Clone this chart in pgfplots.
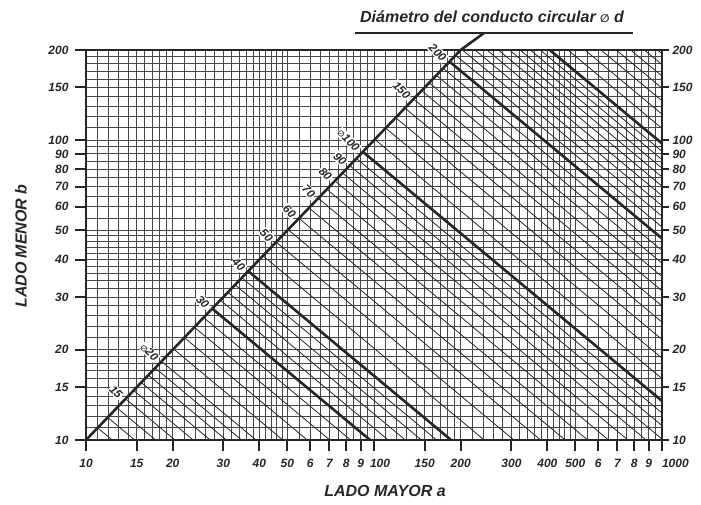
\documentclass[border=0pt]{standalone}
\usepackage{fontspec}
\setmainfont{Liberation Sans}
\newfontfamily\symfont{DejaVu Sans}
\usepackage{pgfplots}
\usepackage{pgfplotstable}
\pgfplotsset{compat=1.18}
\definecolor{ink}{HTML}{262626}
\definecolor{gridc}{HTML}{474747}

% constant-diameter line for d = 1 (straight in log-log, slope -0.8),
% scaled by d in both a and b
\pgfplotstableread{
a b
0.91469 0.91469
914.69 0.0036415
}\basecurve

\tikzset{dlab/.style={rotate=-45, anchor=east, fill=white, inner sep=1pt, text=ink,
  font=\bfseries\itshape\fontsize{11.5}{12}\selectfont, xshift=-4pt, yshift=-2pt}}

\begin{document}
\begin{tikzpicture}
\useasboundingbox (0,0) rectangle (701pt,505pt);
\begin{axis}[
  xmode=log, ymode=log, xmin=10, xmax=1000, ymin=10, ymax=200,
  scale only axis, width=576pt, height=390pt,
  at={(86pt,65pt)}, anchor=south west,
  ticklabel style={font=\bfseries\itshape\fontsize{12}{13}\selectfont, text=ink},
  /pgf/number format/assume math mode=true,
  every tick/.style={ink, line width=2pt},
  xtick={10,15,20,30,40,50,60,70,80,90,100,150,200,300,400,500,600,700,800,900,1000},
  xticklabels={10,15,20,30,40,50,6,7,8,9,\makebox[0pt][l]{\hspace{-4pt}100},150,200,300,400,500,6,7,8,9,\makebox[0pt][l]{1000}},
  ytick={10,15,20,30,40,50,60,70,80,90,100,150,200},
  yticklabels={10,15,20,30,40,50,60,70,80,90,100,150,200},
  minor xtick={11,12,13,14,16,17,18,19,22,24,26,28,32,34,36,38,42,44,46,48,55,65,75,85,95,110,120,130,140,160,170,180,190,220,240,260,280,320,340,360,380,420,440,460,480,550,650,750,850,950},
  minor ytick={11,12,13,14,16,17,18,19,22,24,26,28,32,34,36,38,42,44,46,48,55,65,75,85,95,110,120,130,140,160,170,180,190},
  grid=both,
  major grid style={gridc, line width=0.9pt},
  minor grid style={gridc, line width=0.9pt},
  xtick pos=bottom, ytick pos=left, tick align=outside,
  major tick length=11pt, minor tick length=0pt,
  axis line style={ink, line width=2.4pt},
  xticklabel style={yshift=-5pt},
  yticklabel style={xshift=-3pt},
  clip mode=individual,
]
% thin constant-diameter lines
\pgfplotsinvokeforeach{11,12,13,14,15,16,17,18,19,20,22,24,26,28,32,34,36,38,45,50,55,60,65,70,75,80,85,90,95,110,120,130,140,150,160,170,180,190,210,220,230,240,250,260,270,280,290,320,340,360,380,400,420,440}{
  \addplot[ink, line width=0.8pt] table[x expr=\thisrow{a}*#1, y expr=\thisrow{b}*#1]{\basecurve};
}
% thick constant-diameter lines
\pgfplotsinvokeforeach{30,40,100,200,300}{
  \addplot[ink, line width=2.6pt] table[x expr=\thisrow{a}*#1, y expr=\thisrow{b}*#1]{\basecurve};
}
% diameter labels along the diagonal
\node[dlab] at (axis cs:13.72,13.72) {15};
\node[dlab] at (axis cs:18.29,18.29) {{\symfont\fontsize{8}{9}\selectfont ∅}20};
\node[dlab] at (axis cs:27.44,27.44) {30};
\node[dlab] at (axis cs:36.59,36.59) {40};
\node[dlab] at (axis cs:45.73,45.73) {50};
\node[dlab] at (axis cs:54.88,54.88) {60};
\node[dlab] at (axis cs:64.03,64.03) {70};
\node[dlab] at (axis cs:73.18,73.18) {80};
\node[dlab] at (axis cs:82.32,82.32) {90};
\node[dlab] at (axis cs:91.47,91.47) {{\symfont\fontsize{8}{9}\selectfont ∅}100};
\node[dlab] at (axis cs:137.2,137.2) {150};
\node[dlab] at (axis cs:182.9,182.9) {200};
% diagonal a = b
\addplot[ink, line width=2.6pt] coordinates {(10,10) (200,200)};
\coordinate (D) at (axis cs:200,200);
\end{axis}
\begin{axis}[
  xmode=log, ymode=log, xmin=10, xmax=1000, ymin=10, ymax=200,
  scale only axis, width=576pt, height=390pt,
  at={(86pt,65pt)}, anchor=south west,
  ticklabel style={font=\bfseries\itshape\fontsize{12}{13}\selectfont, text=ink},
  /pgf/number format/assume math mode=true,
  every tick/.style={ink, line width=2pt},
  axis x line=none, axis y line*=right,
  ytick={10,15,20,30,40,50,60,70,80,90,100,150,200},
  yticklabels={10,15,20,30,40,50,60,70,80,90,100,150,200},
  tick align=outside, major tick length=7pt, minor tick length=0pt,
  axis line style={ink, line width=2.4pt},
]
\addplot[draw=none] coordinates {(10,10)};
\end{axis}
% title with underline and diagonal extension
\draw[ink, line width=2.6pt] (D) -- (484pt,472pt);
\draw[ink, line width=1.8pt] (355pt,472pt) -- (633pt,472pt);
\node[anchor=base, text=ink, font=\bfseries\itshape\fontsize{16}{18}\selectfont] at (492pt,482pt)
  {Diámetro del conducto circular {\symfont\fontsize{11}{12}\selectfont ∅} d};
% axis titles
\node[text=ink, font=\bfseries\itshape\fontsize{16}{18}\selectfont] at (385pt,14pt) {LADO MAYOR a};
\node[rotate=90, text=ink, font=\bfseries\itshape\fontsize{16}{18}\selectfont] at (21pt,259pt) {LADO MENOR b};
\end{tikzpicture}
\end{document}
